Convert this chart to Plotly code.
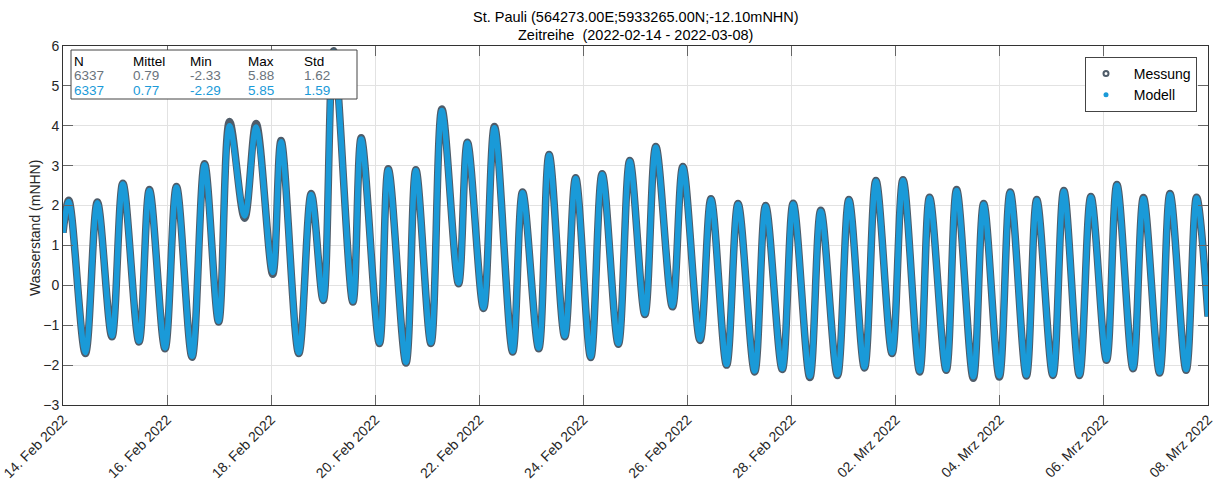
import pandas as pd
import plotly.graph_objects as go

# ---- data ----
# time offsets in days since 2022-02-14 00:00 (tidal turning points)
t_days = [0.00, 0.11, 0.43, 0.66, 0.94, 1.15, 1.46, 1.66, 1.96, 2.18,
          2.48, 2.72, 2.99, 3.20, 3.49, 3.71, 4.03, 4.19, 4.53, 4.77,
          5.00, 5.20, 5.57, 5.73, 6.08, 6.25, 6.59, 6.78, 7.07, 7.28,
          7.60, 7.77, 8.08, 8.29, 8.64, 8.83, 9.14, 9.34, 9.64, 9.85,
          10.14, 10.36, 10.67, 10.89, 11.18, 11.39, 11.71, 11.91, 12.24, 12.45,
          12.75, 12.97, 13.29, 13.50, 13.82, 14.03, 14.35, 14.56, 14.88, 15.10,
          15.40, 15.62, 15.93, 16.14, 16.46, 16.65, 16.97, 17.17, 17.49, 17.69,
          17.99, 18.20, 18.51, 18.71, 19.02, 19.23, 19.53, 19.75, 20.05, 20.25,
          20.56, 20.76, 21.07, 21.27, 21.58, 21.78, 22.00]

messung = [1.32, 2.13, -1.71, 2.09, -1.29, 2.56, -1.42, 2.40, -1.59, 2.48,
           -1.80, 3.05, -0.92, 4.11, 1.68, 4.06, 0.28, 3.63, -1.71, 2.30,
           -0.38, 5.88, -0.42, 3.70, -1.46, 2.92, -1.95, 2.90, -1.46, 4.42,
           0.04, 3.59, -0.58, 3.98, -1.67, 2.34, -1.59, 3.28, -1.29, 2.70,
           -1.81, 2.80, -1.48, 3.13, -0.73, 3.48, -0.54, 2.98, -1.38, 2.17,
           -2.00, 2.05, -2.17, 2.00, -2.11, 2.06, -2.31, 1.88, -2.26, 2.15,
           -2.07, 2.63, -1.71, 2.65, -2.17, 2.21, -2.13, 2.40, -2.33, 2.05,
           -2.30, 2.34, -2.27, 2.15, -2.26, 2.38, -2.26, 2.23, -1.88, 2.53,
           -2.09, 2.20, -2.20, 2.30, -2.13, 2.21, -0.78]

modell = [1.32, 2.10, -1.69, 2.07, -1.27, 2.54, -1.40, 2.38, -1.57, 2.46,
          -1.78, 3.02, -0.90, 4.00, 1.74, 3.97, 0.32, 3.60, -1.69, 2.28,
          -0.36, 5.85, -0.40, 3.67, -1.44, 2.90, -1.93, 2.88, -1.44, 4.38,
          0.06, 3.57, -0.56, 3.95, -1.65, 2.32, -1.57, 3.26, -1.27, 2.68,
          -1.79, 2.78, -1.46, 3.11, -0.71, 3.46, -0.52, 2.96, -1.36, 2.15,
          -1.98, 2.03, -2.15, 1.98, -2.09, 2.04, -2.28, 1.86, -2.24, 2.13,
          -2.05, 2.61, -1.69, 2.63, -2.15, 2.19, -2.11, 2.38, -2.29, 2.03,
          -2.27, 2.32, -2.25, 2.13, -2.24, 2.36, -2.24, 2.21, -1.86, 2.51,
          -2.07, 2.18, -2.18, 2.28, -2.11, 2.19, -0.78]

tick_dates = ["2022-02-14", "2022-02-16", "2022-02-18", "2022-02-20", "2022-02-22",
              "2022-02-24", "2022-02-26", "2022-02-28", "2022-03-02", "2022-03-04",
              "2022-03-06", "2022-03-08"]
tick_labels = ["14. Feb 2022", "16. Feb 2022", "18. Feb 2022", "20. Feb 2022",
               "22. Feb 2022", "24. Feb 2022", "26. Feb 2022", "28. Feb 2022",
               "02. Mrz 2022", "04. Mrz 2022", "06. Mrz 2022", "08. Mrz 2022"]

stat_header = ["N", "Mittel", "Min", "Max", "Std"]
stat_messung = ["6337", "0.79", "-2.33", "5.88", "1.62"]
stat_modell = ["6337", "0.77", "-2.29", "5.85", "1.59"]

title_lines = ["St. Pauli (564273.00E;5933265.00N;-12.10mNHN)",
               "Zeitreihe\u00a0 (2022-02-14 - 2022-03-08)"]

# ---- styling ----
GREY = "#4f5c69"
BLUE = "#1a9ad8"
FONT = "Liberation Sans, Arial, sans-serif"
PAD = "\u00a0\u00a0"

times = pd.Timestamp("2022-02-14") + pd.to_timedelta(t_days, unit="D")

fig = go.Figure()
fig.add_trace(go.Scatter(x=times, y=messung, mode="lines",
                         line=dict(color=GREY, width=7.5, shape="spline", smoothing=1.0),
                         showlegend=False, hoverinfo="skip"))
fig.add_trace(go.Scatter(x=times, y=modell, mode="lines",
                         line=dict(color=BLUE, width=5.5, shape="spline", smoothing=1.0),
                         showlegend=False, hoverinfo="skip"))
# legend entries
fig.add_trace(go.Scatter(x=[None], y=[None], mode="markers", name=PAD + "Messung",
                         marker=dict(symbol="circle-open", size=5, color=GREY,
                                     line=dict(width=2, color=GREY))))
fig.add_trace(go.Scatter(x=[None], y=[None], mode="markers", name=PAD + "Modell",
                         marker=dict(symbol="circle", size=5, color=BLUE)))

# pixel -> paper helpers
L, R, T, B = 63, 1208, 46, 405
def px(x):
    return (x - L) / (R - L)
def py(y):
    return (B - y) / (B - T)

# title (two lines)
for txt, yy in zip(title_lines, [17, 34.5]):
    fig.add_annotation(x=0.5, y=py(yy), xref="paper", yref="paper", text=txt,
                       showarrow=False, xanchor="center", yanchor="middle",
                       font=dict(family=FONT, size=14.5, color="#000000"))

# y axis title
fig.add_annotation(x=px(35), y=py(228), xref="paper", yref="paper",
                   text="Wasserstand (mNHN)", textangle=-90, showarrow=False,
                   xanchor="center", yanchor="middle",
                   font=dict(family=FONT, size=14, color="#262626"))

# stats box
fig.add_shape(type="rect", xref="paper", yref="paper",
              x0=px(71), x1=px(357), y0=py(99), y1=py(50),
              line=dict(color="#444444", width=1), fillcolor="white", layer="above")
col_x = [73, 132, 189, 247, 303]
rows = [(stat_header, "#000000", 61), (stat_messung, "#6a737c", 75.5), (stat_modell, BLUE, 90)]
for vals, colr, yy in rows:
    for cx, v in zip(col_x, vals):
        fig.add_annotation(x=px(cx), y=py(yy), xref="paper", yref="paper",
                           text=v, showarrow=False, xanchor="left", yanchor="middle",
                           borderpad=0,
                           font=dict(family=FONT, size=13.5, color=colr))

axis_common = dict(showline=True, linecolor="#333333", linewidth=1, mirror="ticks",
                   ticks="inside", ticklen=10, tickcolor="#666666", tickwidth=1,
                   showgrid=True, gridcolor="#e2e2e2", gridwidth=1, zeroline=False,
                   automargin=False,
                   tickfont=dict(family=FONT, size=14, color="#262626"))

fig.update_layout(
    width=1224, height=480,
    margin=dict(l=L, r=1224 - R, t=T, b=480 - B),
    paper_bgcolor="white", plot_bgcolor="white",
    font=dict(family=FONT, size=14, color="#000000"),
    xaxis=dict(type="date", range=["2022-02-14", "2022-03-08"],
               tickvals=tick_dates, ticktext=tick_labels, tickangle=-45,
               **axis_common),
    yaxis=dict(range=[-3, 6], dtick=1, tick0=0, **axis_common),
    legend=dict(x=px(1197), xanchor="right", y=py(57), yanchor="top",
                bgcolor="white", bordercolor="#444444", borderwidth=1,
                font=dict(family=FONT, size=14, color="#000000"),
                itemwidth=30, tracegroupgap=0),
)

fig.write_html("out.html", config={"displayModeBar": False},
               post_script="document.body.style.margin='0';document.body.style.overflow='hidden';")
